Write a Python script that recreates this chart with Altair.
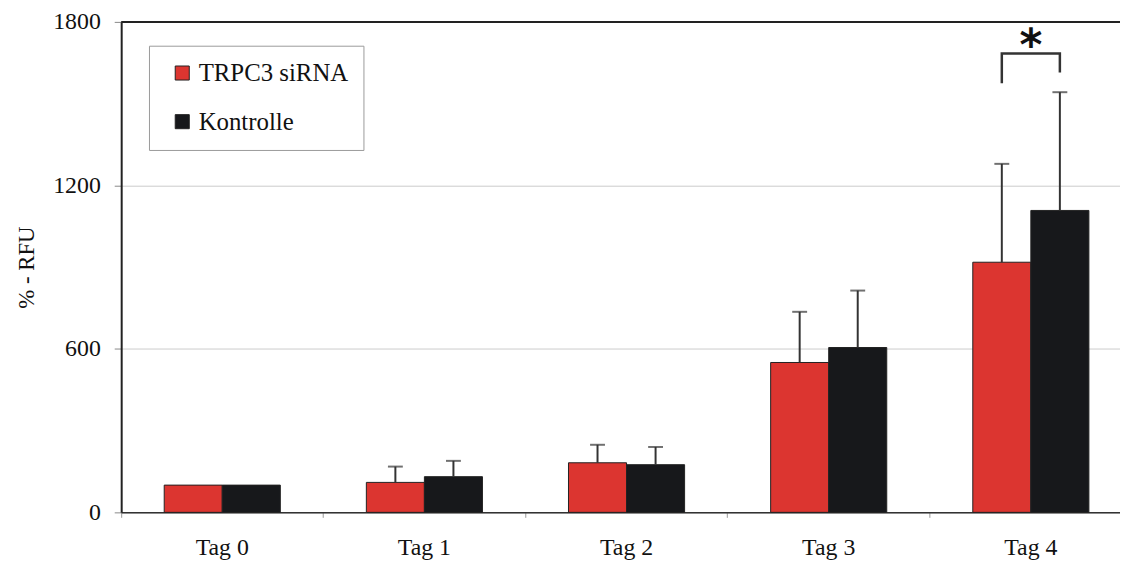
import altair as alt
import pandas as pd

days = ["Tag 0", "Tag 1", "Tag 2", "Tag 3", "Tag 4"]
groups = ["TRPC3 siRNA", "Kontrolle"]
trpc3_mean = [100, 110, 182, 550, 918]
trpc3_upper = [100, 168, 248, 736, 1279]
ctrl_mean = [100, 131, 175, 605, 1108]
ctrl_upper = [100, 189, 240, 814, 1542]

# significance bracket (Tag 4)
bracket_group = ["TRPC3 siRNA", "TRPC3 siRNA", "Kontrolle", "Kontrolle"]
bracket_y = [1575, 1684, 1684, 1614]
star_y = [1708]

colors = ["#DC3530", "#17181B"]
FONT = "Liberation Serif"

rows = []
for i, d in enumerate(days):
    rows.append({"day": d, "group": groups[0], "mean": trpc3_mean[i], "upper": trpc3_upper[i]})
    rows.append({"day": d, "group": groups[1], "mean": ctrl_mean[i], "upper": ctrl_upper[i]})
df = pd.DataFrame(rows)
err_df = df[df["upper"] > df["mean"]]

br_df = pd.DataFrame({"day": ["Tag 4"] * 4, "group": bracket_group, "y": bracket_y,
                      "o": list(range(4))})
star_df = pd.DataFrame({"day": ["Tag 4"], "y": star_y, "t": ["*"]})
top_df = pd.DataFrame({"y": [1800]})

xscale = alt.Scale(domain=days, range=[0, 1018], paddingInner=0, paddingOuter=0)
x_enc = alt.X("day:N", scale=xscale, sort=days,
              axis=alt.Axis(title=None, labelAngle=0, bandPosition=0, ticks=True,
                            tickSize=5, labelPadding=18, domainColor="#333333",
                            domainWidth=1.5, tickColor="#999999",
                            labelFont=FONT, labelFontSize=24, labelColor="#111111",
                            grid=False))
xoff = alt.XOffset("group:N", sort=groups,
                   scale=alt.Scale(domain=groups, paddingInner=0, paddingOuter=0.741))
yscale = alt.Scale(domain=[0, 1800], nice=False, zero=True)

bars = alt.Chart(df).mark_bar(stroke="#222222", strokeWidth=1).encode(
    x=x_enc,
    xOffset=xoff,
    y=alt.Y("mean:Q", scale=yscale,
            axis=alt.Axis(title="% - RFU", values=[0, 600, 1200, 1800], format="d",
                          tickSize=7, labelPadding=14, labelFont=FONT, labelFontSize=24,
                          labelColor="#111111", titleFont=FONT, titleFontSize=23,
                          titleFontWeight="normal", titleColor="#111111",
                          titlePadding=14, domainColor="#222222", domainWidth=2,
                          tickColor="#888888", grid=True, gridColor="#CCCCCC",
                          gridWidth=1)),
    color=alt.Color("group:N", sort=groups,
                    scale=alt.Scale(domain=groups, range=colors),
                    legend=alt.Legend(title=None, orient="none", legendX=28, legendY=24,
                                      symbolType="square", symbolSize=200,
                                      symbolStrokeColor="#222222", symbolStrokeWidth=1,
                                      symbolOffset=6, labelFont=FONT, labelFontSize=25,
                                      labelColor="#111111", labelOffset=4,
                                      rowPadding=23, padding=15,
                                      strokeColor="#9A9A9A", fillColor="white")),
)

err_rule = alt.Chart(err_df).mark_rule(color="#333333", strokeWidth=2).encode(
    x=alt.X("day:N", scale=xscale, sort=days),
    xOffset=xoff,
    y=alt.Y("mean:Q", scale=yscale),
    y2="upper:Q",
)
err_cap = alt.Chart(err_df).mark_tick(color="#333333", thickness=2, size=15,
                                      orient="horizontal").encode(
    x=alt.X("day:N", scale=xscale, sort=days),
    xOffset=xoff,
    y=alt.Y("upper:Q", scale=yscale),
)

bracket = alt.Chart(br_df).mark_line(color="#333333", strokeWidth=2.5).encode(
    x=alt.X("day:N", scale=xscale, sort=days),
    xOffset=xoff,
    y=alt.Y("y:Q", scale=yscale),
    order="o:Q",
)

star = alt.Chart(star_df).mark_text(font="DejaVu Sans", fontWeight="bold", fontSize=44,
                                    baseline="middle", color="#111111").encode(
    x=alt.X("day:N", scale=xscale, sort=days),
    y=alt.Y("y:Q", scale=yscale),
    text="t:N",
)

top = alt.Chart(top_df).mark_rule(color="#222222", strokeWidth=2).encode(
    y=alt.Y("y:Q", scale=yscale),
)

chart = alt.layer(bars, err_rule, err_cap, bracket, star, top).properties(
    width=1006, height=494,
    autosize=alt.AutoSizeParams(type="none"),
    padding={"left": 114, "top": 12, "right": 0, "bottom": 48},
).configure_view(stroke=None).configure(background="white")

chart.save("out.html", embed_options={"renderer": "svg", "actions": False})
